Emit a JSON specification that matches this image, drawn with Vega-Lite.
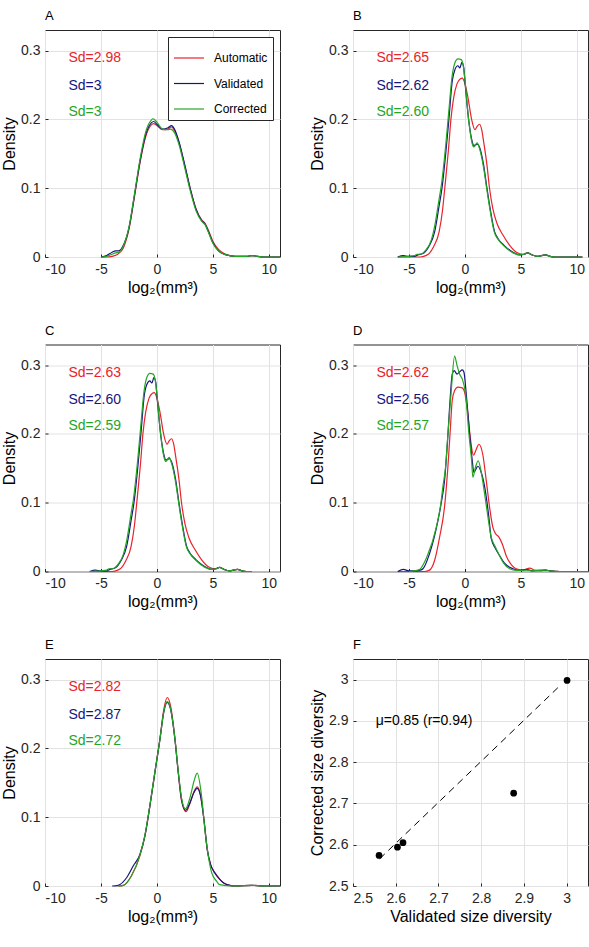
{
 "$schema": "https://vega.github.io/schema/vega-lite/v6.json",
 "background": "white",
 "padding": {"left": 1, "top": 9, "right": 0, "bottom": 0},
 "config": {
  "font": "Liberation Sans",
  "view": {"stroke": "#262626", "strokeWidth": 1},
  "axis": {"grid": true, "gridColor": "#e2e2e2", "gridWidth": 1, "domain": false, "tickSize": -3, "tickColor": "#262626", "tickWidth": 1, "labelFontSize": 14, "labelColor": "#262626", "labelPadding": 8, "titleFontSize": 16, "titleFontWeight": "normal", "titleColor": "#000000", "titlePadding": 3, "labelFont": "Liberation Sans", "titleFont": "Liberation Sans"},
  "title": {"anchor": "start", "frame": "group", "fontSize": 13, "fontWeight": "normal", "offset": 7, "color": "#000000", "font": "Liberation Sans"},
  "legend": {"labelFont": "Liberation Sans"}
 },
 "datasets": {
  "sd": [
   {"p": "A", "s": "Automatic", "label": "Sd=2.98"}, {"p": "A", "s": "Validated", "label": "Sd=3"}, {"p": "A", "s": "Corrected", "label": "Sd=3"},
   {"p": "B", "s": "Automatic", "label": "Sd=2.65"}, {"p": "B", "s": "Validated", "label": "Sd=2.62"}, {"p": "B", "s": "Corrected", "label": "Sd=2.60"},
   {"p": "C", "s": "Automatic", "label": "Sd=2.63"}, {"p": "C", "s": "Validated", "label": "Sd=2.60"}, {"p": "C", "s": "Corrected", "label": "Sd=2.59"},
   {"p": "D", "s": "Automatic", "label": "Sd=2.62"}, {"p": "D", "s": "Validated", "label": "Sd=2.56"}, {"p": "D", "s": "Corrected", "label": "Sd=2.57"},
   {"p": "E", "s": "Automatic", "label": "Sd=2.82"}, {"p": "E", "s": "Validated", "label": "Sd=2.87"}, {"p": "E", "s": "Corrected", "label": "Sd=2.72"}
  ],
  "scatter": [
   {"panel": "A", "x": 3.001, "y": 2.998}, {"panel": "B", "x": 2.617, "y": 2.605}, {"panel": "C", "x": 2.604, "y": 2.594}, {"panel": "D", "x": 2.561, "y": 2.574}, {"panel": "E", "x": 2.876, "y": 2.725}
  ],
  "fit": [{"x": 2.5625, "y": 2.566}, {"x": 2.982, "y": 2.983}],
  "note": [{"label": "μ=0.85 (r=0.94)"}],
  "curves": [
   {"p":"A","s":"Automatic","x":-5,"y":0},{"p":"A","s":"Automatic","x":-4.5,"y":0},{"p":"A","s":"Automatic","x":-4,"y":0.001},{"p":"A","s":"Automatic","x":-3.5,"y":0.004},{"p":"A","s":"Automatic","x":-3,"y":0.013},{"p":"A","s":"Automatic","x":-2.5,"y":0.04},{"p":"A","s":"Automatic","x":-2,"y":0.088},{"p":"A","s":"Automatic","x":-1.5,"y":0.138},{"p":"A","s":"Automatic","x":-1,"y":0.175},{"p":"A","s":"Automatic","x":-0.5,"y":0.192},{"p":"A","s":"Automatic","x":-0.3,"y":0.194},{"p":"A","s":"Automatic","x":0,"y":0.191},{"p":"A","s":"Automatic","x":0.5,"y":0.185},{"p":"A","s":"Automatic","x":1,"y":0.186},{"p":"A","s":"Automatic","x":1.3,"y":0.189},{"p":"A","s":"Automatic","x":1.6,"y":0.183},{"p":"A","s":"Automatic","x":2,"y":0.165},{"p":"A","s":"Automatic","x":2.5,"y":0.132},{"p":"A","s":"Automatic","x":3,"y":0.098},{"p":"A","s":"Automatic","x":3.5,"y":0.07},{"p":"A","s":"Automatic","x":4,"y":0.054},{"p":"A","s":"Automatic","x":4.3,"y":0.049},{"p":"A","s":"Automatic","x":4.6,"y":0.039},{"p":"A","s":"Automatic","x":5,"y":0.023},{"p":"A","s":"Automatic","x":5.5,"y":0.011},{"p":"A","s":"Automatic","x":6,"y":0.005},{"p":"A","s":"Automatic","x":6.5,"y":0.002},{"p":"A","s":"Automatic","x":7,"y":0.001},{"p":"A","s":"Automatic","x":8,"y":0.001},{"p":"A","s":"Automatic","x":8.5,"y":0.002},{"p":"A","s":"Automatic","x":9,"y":0.001},{"p":"A","s":"Automatic","x":9.5,"y":0},{"p":"A","s":"Automatic","x":11,"y":0},
   {"p":"A","s":"Validated","x":-5,"y":0},{"p":"A","s":"Validated","x":-4.5,"y":0.002},{"p":"A","s":"Validated","x":-4,"y":0.007},{"p":"A","s":"Validated","x":-3.7,"y":0.009},{"p":"A","s":"Validated","x":-3.4,"y":0.009},{"p":"A","s":"Validated","x":-3,"y":0.017},{"p":"A","s":"Validated","x":-2.5,"y":0.042},{"p":"A","s":"Validated","x":-2,"y":0.09},{"p":"A","s":"Validated","x":-1.5,"y":0.14},{"p":"A","s":"Validated","x":-1,"y":0.178},{"p":"A","s":"Validated","x":-0.5,"y":0.195},{"p":"A","s":"Validated","x":-0.3,"y":0.197},{"p":"A","s":"Validated","x":0,"y":0.193},{"p":"A","s":"Validated","x":0.5,"y":0.186},{"p":"A","s":"Validated","x":1,"y":0.188},{"p":"A","s":"Validated","x":1.3,"y":0.191},{"p":"A","s":"Validated","x":1.6,"y":0.185},{"p":"A","s":"Validated","x":2,"y":0.166},{"p":"A","s":"Validated","x":2.5,"y":0.133},{"p":"A","s":"Validated","x":3,"y":0.098},{"p":"A","s":"Validated","x":3.5,"y":0.069},{"p":"A","s":"Validated","x":4,"y":0.053},{"p":"A","s":"Validated","x":4.3,"y":0.048},{"p":"A","s":"Validated","x":4.6,"y":0.037},{"p":"A","s":"Validated","x":5,"y":0.021},{"p":"A","s":"Validated","x":5.5,"y":0.009},{"p":"A","s":"Validated","x":6,"y":0.004},{"p":"A","s":"Validated","x":6.5,"y":0.002},{"p":"A","s":"Validated","x":7,"y":0.001},{"p":"A","s":"Validated","x":8,"y":0.001},{"p":"A","s":"Validated","x":8.5,"y":0.002},{"p":"A","s":"Validated","x":9,"y":0.001},{"p":"A","s":"Validated","x":9.5,"y":0},{"p":"A","s":"Validated","x":11,"y":0},
   {"p":"A","s":"Corrected","x":-5,"y":0},{"p":"A","s":"Corrected","x":-4.5,"y":0.001},{"p":"A","s":"Corrected","x":-4,"y":0.004},{"p":"A","s":"Corrected","x":-3.7,"y":0.006},{"p":"A","s":"Corrected","x":-3.4,"y":0.007},{"p":"A","s":"Corrected","x":-3,"y":0.016},{"p":"A","s":"Corrected","x":-2.5,"y":0.043},{"p":"A","s":"Corrected","x":-2,"y":0.092},{"p":"A","s":"Corrected","x":-1.5,"y":0.143},{"p":"A","s":"Corrected","x":-1,"y":0.182},{"p":"A","s":"Corrected","x":-0.5,"y":0.199},{"p":"A","s":"Corrected","x":-0.35,"y":0.201},{"p":"A","s":"Corrected","x":0,"y":0.196},{"p":"A","s":"Corrected","x":0.5,"y":0.186},{"p":"A","s":"Corrected","x":1,"y":0.185},{"p":"A","s":"Corrected","x":1.2,"y":0.186},{"p":"A","s":"Corrected","x":1.6,"y":0.18},{"p":"A","s":"Corrected","x":2,"y":0.162},{"p":"A","s":"Corrected","x":2.5,"y":0.129},{"p":"A","s":"Corrected","x":3,"y":0.095},{"p":"A","s":"Corrected","x":3.5,"y":0.067},{"p":"A","s":"Corrected","x":4,"y":0.052},{"p":"A","s":"Corrected","x":4.3,"y":0.047},{"p":"A","s":"Corrected","x":4.6,"y":0.036},{"p":"A","s":"Corrected","x":5,"y":0.02},{"p":"A","s":"Corrected","x":5.5,"y":0.009},{"p":"A","s":"Corrected","x":6,"y":0.004},{"p":"A","s":"Corrected","x":6.5,"y":0.002},{"p":"A","s":"Corrected","x":7,"y":0.001},{"p":"A","s":"Corrected","x":8,"y":0.001},{"p":"A","s":"Corrected","x":8.5,"y":0.002},{"p":"A","s":"Corrected","x":9,"y":0.001},{"p":"A","s":"Corrected","x":9.5,"y":0},{"p":"A","s":"Corrected","x":11,"y":0},

   {"p":"B","s":"Automatic","x":-6,"y":0},{"p":"B","s":"Automatic","x":-4,"y":0},{"p":"B","s":"Automatic","x":-3.5,"y":0.002},{"p":"B","s":"Automatic","x":-3.2,"y":0.005},{"p":"B","s":"Automatic","x":-2.8,"y":0.015},{"p":"B","s":"Automatic","x":-2.3,"y":0.037},{"p":"B","s":"Automatic","x":-2,"y":0.068},{"p":"B","s":"Automatic","x":-1.8,"y":0.1},{"p":"B","s":"Automatic","x":-1.46,"y":0.158},{"p":"B","s":"Automatic","x":-1.25,"y":0.2},{"p":"B","s":"Automatic","x":-1,"y":0.232},{"p":"B","s":"Automatic","x":-0.7,"y":0.252},{"p":"B","s":"Automatic","x":-0.4,"y":0.259},{"p":"B","s":"Automatic","x":-0.24,"y":0.26},{"p":"B","s":"Automatic","x":0,"y":0.252},{"p":"B","s":"Automatic","x":0.27,"y":0.232},{"p":"B","s":"Automatic","x":0.6,"y":0.2},{"p":"B","s":"Automatic","x":0.9,"y":0.185},{"p":"B","s":"Automatic","x":1.1,"y":0.19},{"p":"B","s":"Automatic","x":1.3,"y":0.193},{"p":"B","s":"Automatic","x":1.5,"y":0.185},{"p":"B","s":"Automatic","x":1.67,"y":0.168},{"p":"B","s":"Automatic","x":1.97,"y":0.134},{"p":"B","s":"Automatic","x":2.2,"y":0.1},{"p":"B","s":"Automatic","x":2.5,"y":0.07},{"p":"B","s":"Automatic","x":2.86,"y":0.049},{"p":"B","s":"Automatic","x":3.4,"y":0.032},{"p":"B","s":"Automatic","x":4,"y":0.017},{"p":"B","s":"Automatic","x":4.6,"y":0.007},{"p":"B","s":"Automatic","x":5.2,"y":0.004},{"p":"B","s":"Automatic","x":5.6,"y":0.006},{"p":"B","s":"Automatic","x":6,"y":0.003},{"p":"B","s":"Automatic","x":6.5,"y":0.001},{"p":"B","s":"Automatic","x":7.2,"y":0.003},{"p":"B","s":"Automatic","x":7.6,"y":0.001},{"p":"B","s":"Automatic","x":8,"y":0},{"p":"B","s":"Automatic","x":10.5,"y":0},
   {"p":"B","s":"Validated","x":-6,"y":0},{"p":"B","s":"Validated","x":-5.5,"y":0.002},{"p":"B","s":"Validated","x":-5,"y":0.001},{"p":"B","s":"Validated","x":-4.5,"y":0.001},{"p":"B","s":"Validated","x":-4.2,"y":0.003},{"p":"B","s":"Validated","x":-3.75,"y":0.005},{"p":"B","s":"Validated","x":-3.2,"y":0.016},{"p":"B","s":"Validated","x":-2.7,"y":0.037},{"p":"B","s":"Validated","x":-2.3,"y":0.075},{"p":"B","s":"Validated","x":-2.05,"y":0.1},{"p":"B","s":"Validated","x":-1.67,"y":0.158},{"p":"B","s":"Validated","x":-1.43,"y":0.2},{"p":"B","s":"Validated","x":-1.13,"y":0.256},{"p":"B","s":"Validated","x":-0.9,"y":0.272},{"p":"B","s":"Validated","x":-0.63,"y":0.278},{"p":"B","s":"Validated","x":-0.45,"y":0.275},{"p":"B","s":"Validated","x":-0.27,"y":0.283},{"p":"B","s":"Validated","x":-0.1,"y":0.275},{"p":"B","s":"Validated","x":0,"y":0.256},{"p":"B","s":"Validated","x":0.33,"y":0.2},{"p":"B","s":"Validated","x":0.65,"y":0.168},{"p":"B","s":"Validated","x":0.8,"y":0.162},{"p":"B","s":"Validated","x":1.1,"y":0.164},{"p":"B","s":"Validated","x":1.3,"y":0.16},{"p":"B","s":"Validated","x":1.67,"y":0.134},{"p":"B","s":"Validated","x":1.97,"y":0.1},{"p":"B","s":"Validated","x":2.26,"y":0.07},{"p":"B","s":"Validated","x":2.65,"y":0.037},{"p":"B","s":"Validated","x":2.95,"y":0.027},{"p":"B","s":"Validated","x":3.5,"y":0.017},{"p":"B","s":"Validated","x":4.3,"y":0.007},{"p":"B","s":"Validated","x":4.9,"y":0.003},{"p":"B","s":"Validated","x":5.3,"y":0.004},{"p":"B","s":"Validated","x":5.6,"y":0.006},{"p":"B","s":"Validated","x":6,"y":0.003},{"p":"B","s":"Validated","x":6.5,"y":0.001},{"p":"B","s":"Validated","x":7.2,"y":0.003},{"p":"B","s":"Validated","x":7.6,"y":0.001},{"p":"B","s":"Validated","x":8,"y":0},{"p":"B","s":"Validated","x":10.5,"y":0},
   {"p":"B","s":"Corrected","x":-6,"y":0},{"p":"B","s":"Corrected","x":-5,"y":0.001},{"p":"B","s":"Corrected","x":-4.5,"y":0.002},{"p":"B","s":"Corrected","x":-4.3,"y":0.004},{"p":"B","s":"Corrected","x":-4,"y":0.004},{"p":"B","s":"Corrected","x":-3.5,"y":0.01},{"p":"B","s":"Corrected","x":-3,"y":0.025},{"p":"B","s":"Corrected","x":-2.7,"y":0.045},{"p":"B","s":"Corrected","x":-2.3,"y":0.085},{"p":"B","s":"Corrected","x":-2.1,"y":0.105},{"p":"B","s":"Corrected","x":-1.7,"y":0.165},{"p":"B","s":"Corrected","x":-1.45,"y":0.21},{"p":"B","s":"Corrected","x":-1.15,"y":0.262},{"p":"B","s":"Corrected","x":-0.9,"y":0.282},{"p":"B","s":"Corrected","x":-0.63,"y":0.288},{"p":"B","s":"Corrected","x":-0.33,"y":0.287},{"p":"B","s":"Corrected","x":-0.15,"y":0.278},{"p":"B","s":"Corrected","x":0,"y":0.258},{"p":"B","s":"Corrected","x":0.33,"y":0.2},{"p":"B","s":"Corrected","x":0.65,"y":0.165},{"p":"B","s":"Corrected","x":0.8,"y":0.16},{"p":"B","s":"Corrected","x":1.1,"y":0.166},{"p":"B","s":"Corrected","x":1.3,"y":0.158},{"p":"B","s":"Corrected","x":1.67,"y":0.13},{"p":"B","s":"Corrected","x":1.97,"y":0.097},{"p":"B","s":"Corrected","x":2.26,"y":0.067},{"p":"B","s":"Corrected","x":2.65,"y":0.035},{"p":"B","s":"Corrected","x":2.95,"y":0.026},{"p":"B","s":"Corrected","x":3.5,"y":0.016},{"p":"B","s":"Corrected","x":4.3,"y":0.006},{"p":"B","s":"Corrected","x":4.9,"y":0.003},{"p":"B","s":"Corrected","x":5.3,"y":0.004},{"p":"B","s":"Corrected","x":5.6,"y":0.006},{"p":"B","s":"Corrected","x":6,"y":0.003},{"p":"B","s":"Corrected","x":6.5,"y":0.001},{"p":"B","s":"Corrected","x":7.2,"y":0.003},{"p":"B","s":"Corrected","x":7.6,"y":0.001},{"p":"B","s":"Corrected","x":8,"y":0},{"p":"B","s":"Corrected","x":10.5,"y":0},

   {"p":"C","s":"Automatic","x":-6,"y":0},{"p":"C","s":"Automatic","x":-4,"y":0},{"p":"C","s":"Automatic","x":-3.5,"y":0.002},{"p":"C","s":"Automatic","x":-3.2,"y":0.005},{"p":"C","s":"Automatic","x":-2.8,"y":0.015},{"p":"C","s":"Automatic","x":-2.3,"y":0.037},{"p":"C","s":"Automatic","x":-2,"y":0.068},{"p":"C","s":"Automatic","x":-1.8,"y":0.1},{"p":"C","s":"Automatic","x":-1.46,"y":0.158},{"p":"C","s":"Automatic","x":-1.25,"y":0.2},{"p":"C","s":"Automatic","x":-1,"y":0.232},{"p":"C","s":"Automatic","x":-0.7,"y":0.252},{"p":"C","s":"Automatic","x":-0.4,"y":0.259},{"p":"C","s":"Automatic","x":-0.24,"y":0.26},{"p":"C","s":"Automatic","x":0,"y":0.252},{"p":"C","s":"Automatic","x":0.27,"y":0.232},{"p":"C","s":"Automatic","x":0.6,"y":0.2},{"p":"C","s":"Automatic","x":0.9,"y":0.185},{"p":"C","s":"Automatic","x":1.1,"y":0.19},{"p":"C","s":"Automatic","x":1.3,"y":0.193},{"p":"C","s":"Automatic","x":1.5,"y":0.185},{"p":"C","s":"Automatic","x":1.67,"y":0.168},{"p":"C","s":"Automatic","x":1.97,"y":0.134},{"p":"C","s":"Automatic","x":2.2,"y":0.1},{"p":"C","s":"Automatic","x":2.5,"y":0.07},{"p":"C","s":"Automatic","x":2.86,"y":0.049},{"p":"C","s":"Automatic","x":3.4,"y":0.032},{"p":"C","s":"Automatic","x":4,"y":0.017},{"p":"C","s":"Automatic","x":4.6,"y":0.007},{"p":"C","s":"Automatic","x":5.2,"y":0.004},{"p":"C","s":"Automatic","x":5.6,"y":0.006},{"p":"C","s":"Automatic","x":6,"y":0.003},{"p":"C","s":"Automatic","x":6.5,"y":0.001},{"p":"C","s":"Automatic","x":7.2,"y":0.003},{"p":"C","s":"Automatic","x":7.6,"y":0.001},{"p":"C","s":"Automatic","x":8,"y":0},{"p":"C","s":"Automatic","x":8.5,"y":0},
   {"p":"C","s":"Validated","x":-6,"y":0},{"p":"C","s":"Validated","x":-5.5,"y":0.002},{"p":"C","s":"Validated","x":-5,"y":0.001},{"p":"C","s":"Validated","x":-4.5,"y":0.001},{"p":"C","s":"Validated","x":-4.2,"y":0.003},{"p":"C","s":"Validated","x":-3.75,"y":0.005},{"p":"C","s":"Validated","x":-3.2,"y":0.016},{"p":"C","s":"Validated","x":-2.7,"y":0.037},{"p":"C","s":"Validated","x":-2.3,"y":0.075},{"p":"C","s":"Validated","x":-2.05,"y":0.1},{"p":"C","s":"Validated","x":-1.67,"y":0.158},{"p":"C","s":"Validated","x":-1.43,"y":0.2},{"p":"C","s":"Validated","x":-1.13,"y":0.256},{"p":"C","s":"Validated","x":-0.9,"y":0.272},{"p":"C","s":"Validated","x":-0.63,"y":0.277},{"p":"C","s":"Validated","x":-0.45,"y":0.274},{"p":"C","s":"Validated","x":-0.27,"y":0.282},{"p":"C","s":"Validated","x":-0.1,"y":0.275},{"p":"C","s":"Validated","x":0,"y":0.256},{"p":"C","s":"Validated","x":0.33,"y":0.2},{"p":"C","s":"Validated","x":0.65,"y":0.168},{"p":"C","s":"Validated","x":0.8,"y":0.162},{"p":"C","s":"Validated","x":1.1,"y":0.164},{"p":"C","s":"Validated","x":1.3,"y":0.16},{"p":"C","s":"Validated","x":1.67,"y":0.134},{"p":"C","s":"Validated","x":1.97,"y":0.1},{"p":"C","s":"Validated","x":2.26,"y":0.07},{"p":"C","s":"Validated","x":2.65,"y":0.037},{"p":"C","s":"Validated","x":2.95,"y":0.027},{"p":"C","s":"Validated","x":3.5,"y":0.017},{"p":"C","s":"Validated","x":4.3,"y":0.007},{"p":"C","s":"Validated","x":4.9,"y":0.003},{"p":"C","s":"Validated","x":5.3,"y":0.004},{"p":"C","s":"Validated","x":5.6,"y":0.006},{"p":"C","s":"Validated","x":6,"y":0.003},{"p":"C","s":"Validated","x":6.5,"y":0.001},{"p":"C","s":"Validated","x":7.2,"y":0.003},{"p":"C","s":"Validated","x":7.6,"y":0.001},{"p":"C","s":"Validated","x":8,"y":0},{"p":"C","s":"Validated","x":8.5,"y":0},
   {"p":"C","s":"Corrected","x":-6,"y":0},{"p":"C","s":"Corrected","x":-5,"y":0.001},{"p":"C","s":"Corrected","x":-4.5,"y":0.002},{"p":"C","s":"Corrected","x":-4.3,"y":0.004},{"p":"C","s":"Corrected","x":-4,"y":0.004},{"p":"C","s":"Corrected","x":-3.5,"y":0.01},{"p":"C","s":"Corrected","x":-3,"y":0.025},{"p":"C","s":"Corrected","x":-2.7,"y":0.045},{"p":"C","s":"Corrected","x":-2.3,"y":0.085},{"p":"C","s":"Corrected","x":-2.1,"y":0.105},{"p":"C","s":"Corrected","x":-1.7,"y":0.165},{"p":"C","s":"Corrected","x":-1.45,"y":0.21},{"p":"C","s":"Corrected","x":-1.15,"y":0.262},{"p":"C","s":"Corrected","x":-0.9,"y":0.282},{"p":"C","s":"Corrected","x":-0.63,"y":0.288},{"p":"C","s":"Corrected","x":-0.33,"y":0.287},{"p":"C","s":"Corrected","x":-0.15,"y":0.278},{"p":"C","s":"Corrected","x":0,"y":0.258},{"p":"C","s":"Corrected","x":0.33,"y":0.2},{"p":"C","s":"Corrected","x":0.65,"y":0.165},{"p":"C","s":"Corrected","x":0.8,"y":0.16},{"p":"C","s":"Corrected","x":1.1,"y":0.166},{"p":"C","s":"Corrected","x":1.3,"y":0.158},{"p":"C","s":"Corrected","x":1.67,"y":0.13},{"p":"C","s":"Corrected","x":1.97,"y":0.097},{"p":"C","s":"Corrected","x":2.26,"y":0.067},{"p":"C","s":"Corrected","x":2.65,"y":0.035},{"p":"C","s":"Corrected","x":2.95,"y":0.026},{"p":"C","s":"Corrected","x":3.5,"y":0.016},{"p":"C","s":"Corrected","x":4.3,"y":0.006},{"p":"C","s":"Corrected","x":4.9,"y":0.003},{"p":"C","s":"Corrected","x":5.3,"y":0.004},{"p":"C","s":"Corrected","x":5.6,"y":0.006},{"p":"C","s":"Corrected","x":6,"y":0.003},{"p":"C","s":"Corrected","x":6.5,"y":0.001},{"p":"C","s":"Corrected","x":7.2,"y":0.003},{"p":"C","s":"Corrected","x":7.6,"y":0.001},{"p":"C","s":"Corrected","x":8,"y":0},{"p":"C","s":"Corrected","x":8.5,"y":0},

   {"p":"D","s":"Automatic","x":-6,"y":0},{"p":"D","s":"Automatic","x":-3.6,"y":0},{"p":"D","s":"Automatic","x":-3.16,"y":0.002},{"p":"D","s":"Automatic","x":-2.71,"y":0.016},{"p":"D","s":"Automatic","x":-2.26,"y":0.05},{"p":"D","s":"Automatic","x":-1.82,"y":0.094},{"p":"D","s":"Automatic","x":-1.52,"y":0.152},{"p":"D","s":"Automatic","x":-1.31,"y":0.205},{"p":"D","s":"Automatic","x":-1.13,"y":0.249},{"p":"D","s":"Automatic","x":-0.92,"y":0.263},{"p":"D","s":"Automatic","x":-0.63,"y":0.268},{"p":"D","s":"Automatic","x":-0.24,"y":0.267},{"p":"D","s":"Automatic","x":-0.03,"y":0.261},{"p":"D","s":"Automatic","x":0.27,"y":0.229},{"p":"D","s":"Automatic","x":0.48,"y":0.195},{"p":"D","s":"Automatic","x":0.77,"y":0.169},{"p":"D","s":"Automatic","x":1,"y":0.177},{"p":"D","s":"Automatic","x":1.25,"y":0.185},{"p":"D","s":"Automatic","x":1.61,"y":0.169},{"p":"D","s":"Automatic","x":1.91,"y":0.132},{"p":"D","s":"Automatic","x":2.2,"y":0.094},{"p":"D","s":"Automatic","x":2.5,"y":0.064},{"p":"D","s":"Automatic","x":2.74,"y":0.055},{"p":"D","s":"Automatic","x":3.04,"y":0.05},{"p":"D","s":"Automatic","x":3.34,"y":0.04},{"p":"D","s":"Automatic","x":3.69,"y":0.023},{"p":"D","s":"Automatic","x":4.14,"y":0.01},{"p":"D","s":"Automatic","x":4.59,"y":0.004},{"p":"D","s":"Automatic","x":5.2,"y":0.002},{"p":"D","s":"Automatic","x":5.8,"y":0.005},{"p":"D","s":"Automatic","x":6.2,"y":0.002},{"p":"D","s":"Automatic","x":6.8,"y":0.001},{"p":"D","s":"Automatic","x":7.2,"y":0.002},{"p":"D","s":"Automatic","x":7.6,"y":0.001},{"p":"D","s":"Automatic","x":8.5,"y":0},{"p":"D","s":"Automatic","x":11,"y":0},
   {"p":"D","s":"Validated","x":-6,"y":0},{"p":"D","s":"Validated","x":-5.5,"y":0.003},{"p":"D","s":"Validated","x":-5,"y":0.001},{"p":"D","s":"Validated","x":-4.5,"y":0.001},{"p":"D","s":"Validated","x":-4,"y":0.002},{"p":"D","s":"Validated","x":-3.75,"y":0.004},{"p":"D","s":"Validated","x":-3.16,"y":0.026},{"p":"D","s":"Validated","x":-2.41,"y":0.074},{"p":"D","s":"Validated","x":-2.11,"y":0.1},{"p":"D","s":"Validated","x":-1.82,"y":0.132},{"p":"D","s":"Validated","x":-1.55,"y":0.19},{"p":"D","s":"Validated","x":-1.31,"y":0.253},{"p":"D","s":"Validated","x":-1.13,"y":0.287},{"p":"D","s":"Validated","x":-0.95,"y":0.292},{"p":"D","s":"Validated","x":-0.71,"y":0.287},{"p":"D","s":"Validated","x":-0.48,"y":0.29},{"p":"D","s":"Validated","x":-0.24,"y":0.293},{"p":"D","s":"Validated","x":-0.09,"y":0.29},{"p":"D","s":"Validated","x":0.12,"y":0.258},{"p":"D","s":"Validated","x":0.42,"y":0.2},{"p":"D","s":"Validated","x":0.66,"y":0.161},{"p":"D","s":"Validated","x":0.8,"y":0.144},{"p":"D","s":"Validated","x":1.16,"y":0.153},{"p":"D","s":"Validated","x":1.46,"y":0.144},{"p":"D","s":"Validated","x":1.82,"y":0.118},{"p":"D","s":"Validated","x":2.14,"y":0.079},{"p":"D","s":"Validated","x":2.35,"y":0.048},{"p":"D","s":"Validated","x":2.74,"y":0.033},{"p":"D","s":"Validated","x":3.1,"y":0.023},{"p":"D","s":"Validated","x":3.54,"y":0.012},{"p":"D","s":"Validated","x":4.29,"y":0.004},{"p":"D","s":"Validated","x":4.9,"y":0.0015},{"p":"D","s":"Validated","x":5.5,"y":0.003},{"p":"D","s":"Validated","x":6,"y":0.001},{"p":"D","s":"Validated","x":7.2,"y":0.002},{"p":"D","s":"Validated","x":7.6,"y":0.001},{"p":"D","s":"Validated","x":8.5,"y":0},{"p":"D","s":"Validated","x":11,"y":0},
   {"p":"D","s":"Corrected","x":-5,"y":0},{"p":"D","s":"Corrected","x":-4.5,"y":0.001},{"p":"D","s":"Corrected","x":-4.05,"y":0.003},{"p":"D","s":"Corrected","x":-3.4,"y":0.021},{"p":"D","s":"Corrected","x":-2.56,"y":0.064},{"p":"D","s":"Corrected","x":-2.14,"y":0.1},{"p":"D","s":"Corrected","x":-1.97,"y":0.123},{"p":"D","s":"Corrected","x":-1.73,"y":0.152},{"p":"D","s":"Corrected","x":-1.52,"y":0.2},{"p":"D","s":"Corrected","x":-1.22,"y":0.263},{"p":"D","s":"Corrected","x":-0.92,"y":0.313},{"p":"D","s":"Corrected","x":-0.71,"y":0.3},{"p":"D","s":"Corrected","x":-0.48,"y":0.287},{"p":"D","s":"Corrected","x":-0.24,"y":0.28},{"p":"D","s":"Corrected","x":0.06,"y":0.258},{"p":"D","s":"Corrected","x":0.36,"y":0.2},{"p":"D","s":"Corrected","x":0.6,"y":0.161},{"p":"D","s":"Corrected","x":0.71,"y":0.137},{"p":"D","s":"Corrected","x":0.95,"y":0.152},{"p":"D","s":"Corrected","x":1.19,"y":0.161},{"p":"D","s":"Corrected","x":1.43,"y":0.147},{"p":"D","s":"Corrected","x":1.76,"y":0.113},{"p":"D","s":"Corrected","x":2.06,"y":0.079},{"p":"D","s":"Corrected","x":2.35,"y":0.05},{"p":"D","s":"Corrected","x":2.65,"y":0.038},{"p":"D","s":"Corrected","x":2.95,"y":0.028},{"p":"D","s":"Corrected","x":3.4,"y":0.0136},{"p":"D","s":"Corrected","x":4,"y":0.004},{"p":"D","s":"Corrected","x":4.6,"y":0.0015},{"p":"D","s":"Corrected","x":5.5,"y":0.002},{"p":"D","s":"Corrected","x":6,"y":0.001},{"p":"D","s":"Corrected","x":7.2,"y":0.002},{"p":"D","s":"Corrected","x":7.6,"y":0.001},{"p":"D","s":"Corrected","x":8.5,"y":0},{"p":"D","s":"Corrected","x":11,"y":0},

   {"p":"E","s":"Automatic","x":-3.5,"y":0},{"p":"E","s":"Automatic","x":-3,"y":0.001},{"p":"E","s":"Automatic","x":-2.27,"y":0.015},{"p":"E","s":"Automatic","x":-1.52,"y":0.044},{"p":"E","s":"Automatic","x":-1.07,"y":0.073},{"p":"E","s":"Automatic","x":-0.63,"y":0.116},{"p":"E","s":"Automatic","x":-0.18,"y":0.165},{"p":"E","s":"Automatic","x":0.27,"y":0.214},{"p":"E","s":"Automatic","x":0.63,"y":0.258},{"p":"E","s":"Automatic","x":0.92,"y":0.274},{"p":"E","s":"Automatic","x":1.22,"y":0.262},{"p":"E","s":"Automatic","x":1.61,"y":0.215},{"p":"E","s":"Automatic","x":1.91,"y":0.165},{"p":"E","s":"Automatic","x":2.2,"y":0.124},{"p":"E","s":"Automatic","x":2.6,"y":0.108},{"p":"E","s":"Automatic","x":2.95,"y":0.12},{"p":"E","s":"Automatic","x":3.31,"y":0.137},{"p":"E","s":"Automatic","x":3.6,"y":0.144},{"p":"E","s":"Automatic","x":3.9,"y":0.132},{"p":"E","s":"Automatic","x":4.2,"y":0.097},{"p":"E","s":"Automatic","x":4.5,"y":0.053},{"p":"E","s":"Automatic","x":4.8,"y":0.031},{"p":"E","s":"Automatic","x":5.18,"y":0.019},{"p":"E","s":"Automatic","x":5.6,"y":0.01},{"p":"E","s":"Automatic","x":6,"y":0.004},{"p":"E","s":"Automatic","x":6.5,"y":0.001},{"p":"E","s":"Automatic","x":7,"y":0},{"p":"E","s":"Automatic","x":8.5,"y":0.001},{"p":"E","s":"Automatic","x":9.5,"y":0},{"p":"E","s":"Automatic","x":11,"y":0},
   {"p":"E","s":"Validated","x":-4,"y":0},{"p":"E","s":"Validated","x":-3.46,"y":0.001},{"p":"E","s":"Validated","x":-2.71,"y":0.012},{"p":"E","s":"Validated","x":-2.12,"y":0.029},{"p":"E","s":"Validated","x":-1.52,"y":0.046},{"p":"E","s":"Validated","x":-1.07,"y":0.073},{"p":"E","s":"Validated","x":-0.63,"y":0.116},{"p":"E","s":"Validated","x":-0.18,"y":0.165},{"p":"E","s":"Validated","x":0.27,"y":0.213},{"p":"E","s":"Validated","x":0.63,"y":0.254},{"p":"E","s":"Validated","x":0.92,"y":0.267},{"p":"E","s":"Validated","x":1.22,"y":0.257},{"p":"E","s":"Validated","x":1.61,"y":0.213},{"p":"E","s":"Validated","x":1.91,"y":0.165},{"p":"E","s":"Validated","x":2.2,"y":0.126},{"p":"E","s":"Validated","x":2.56,"y":0.11},{"p":"E","s":"Validated","x":2.95,"y":0.121},{"p":"E","s":"Validated","x":3.31,"y":0.136},{"p":"E","s":"Validated","x":3.6,"y":0.142},{"p":"E","s":"Validated","x":3.9,"y":0.131},{"p":"E","s":"Validated","x":4.2,"y":0.097},{"p":"E","s":"Validated","x":4.5,"y":0.053},{"p":"E","s":"Validated","x":4.8,"y":0.031},{"p":"E","s":"Validated","x":5.18,"y":0.019},{"p":"E","s":"Validated","x":5.6,"y":0.01},{"p":"E","s":"Validated","x":6,"y":0.004},{"p":"E","s":"Validated","x":6.5,"y":0.001},{"p":"E","s":"Validated","x":7,"y":0},{"p":"E","s":"Validated","x":8.5,"y":0.001},{"p":"E","s":"Validated","x":9.5,"y":0},{"p":"E","s":"Validated","x":11,"y":0},
   {"p":"E","s":"Corrected","x":-3.5,"y":0},{"p":"E","s":"Corrected","x":-3,"y":0.001},{"p":"E","s":"Corrected","x":-2.27,"y":0.015},{"p":"E","s":"Corrected","x":-1.52,"y":0.045},{"p":"E","s":"Corrected","x":-1.07,"y":0.074},{"p":"E","s":"Corrected","x":-0.63,"y":0.117},{"p":"E","s":"Corrected","x":-0.18,"y":0.166},{"p":"E","s":"Corrected","x":0.27,"y":0.213},{"p":"E","s":"Corrected","x":0.63,"y":0.255},{"p":"E","s":"Corrected","x":0.92,"y":0.268},{"p":"E","s":"Corrected","x":1.22,"y":0.258},{"p":"E","s":"Corrected","x":1.61,"y":0.214},{"p":"E","s":"Corrected","x":1.91,"y":0.166},{"p":"E","s":"Corrected","x":2.2,"y":0.128},{"p":"E","s":"Corrected","x":2.55,"y":0.112},{"p":"E","s":"Corrected","x":2.95,"y":0.128},{"p":"E","s":"Corrected","x":3.31,"y":0.152},{"p":"E","s":"Corrected","x":3.6,"y":0.164},{"p":"E","s":"Corrected","x":3.99,"y":0.131},{"p":"E","s":"Corrected","x":4.29,"y":0.082},{"p":"E","s":"Corrected","x":4.59,"y":0.044},{"p":"E","s":"Corrected","x":4.9,"y":0.019},{"p":"E","s":"Corrected","x":5.33,"y":0.007},{"p":"E","s":"Corrected","x":5.6,"y":0.002},{"p":"E","s":"Corrected","x":6,"y":0.001},{"p":"E","s":"Corrected","x":7,"y":0},{"p":"E","s":"Corrected","x":8.5,"y":0.001},{"p":"E","s":"Corrected","x":9.5,"y":0},{"p":"E","s":"Corrected","x":11,"y":0}
  ]
 },
 "columns": 2,
 "spacing": {"row": 87.5, "column": 73},
 "bounds": "flush",
 "resolve": {"scale": {"color": "independent", "x": "independent", "y": "independent"}, "legend": {"color": "independent"}},
 "concat": [
  {"width": 235, "height": 227, "title": "A", "layer": [
   {"data": {"name": "curves"}, "transform": [{"filter": "datum.p == 'A'"}], "mark": {"type": "line", "strokeWidth": 1.2, "interpolate": "monotone"},
    "encoding": {
     "x": {"field": "x", "type": "quantitative", "scale": {"domain": [-10, 11], "nice": false}, "axis": {"values": [-10, -5, 0, 5, 10], "title": "log₂(mm³)", "labelExpr": "'' + datum.value"}},
     "y": {"field": "y", "type": "quantitative", "scale": {"domain": [0, 0.33], "nice": false}, "axis": {"values": [0, 0.1, 0.2, 0.3], "title": "Density", "labelExpr": "'' + datum.value"}},
     "color": {"field": "s", "type": "nominal", "scale": {"domain": ["Automatic", "Validated", "Corrected"], "range": ["#e8232a", "#15157d", "#25a525"]},
      "legend": {"title": null, "orient": "top-right", "offset": 7, "strokeColor": "#262626", "fillColor": "white", "padding": 5, "symbolType": "stroke", "symbolSize": 900, "symbolStrokeWidth": 1.2, "labelFontSize": 12, "labelColor": "#000000", "rowPadding": 3.5, "labelOffset": 9, "cornerRadius": 0}}
    }},
   {"data": {"name": "sd"}, "transform": [{"filter": "datum.p == 'A' && datum.s == 'Automatic'"}], "mark": {"type": "text", "align": "left", "baseline": "middle", "fontSize": 14}, "encoding": {"x": {"datum": -7.9}, "y": {"datum": 0.289}, "text": {"field": "label"}, "color": {"field": "s", "type": "nominal", "legend": null}}},
   {"data": {"name": "sd"}, "transform": [{"filter": "datum.p == 'A' && datum.s == 'Validated'"}], "mark": {"type": "text", "align": "left", "baseline": "middle", "fontSize": 14}, "encoding": {"x": {"datum": -7.9}, "y": {"datum": 0.249}, "text": {"field": "label"}, "color": {"field": "s", "type": "nominal", "legend": null}}},
   {"data": {"name": "sd"}, "transform": [{"filter": "datum.p == 'A' && datum.s == 'Corrected'"}], "mark": {"type": "text", "align": "left", "baseline": "middle", "fontSize": 14}, "encoding": {"x": {"datum": -7.9}, "y": {"datum": 0.211}, "text": {"field": "label"}, "color": {"field": "s", "type": "nominal", "legend": null}}}
  ]},
  {"width": 235, "height": 227, "title": "B", "layer": [
   {"data": {"name": "curves"}, "transform": [{"filter": "datum.p == 'B'"}], "mark": {"type": "line", "strokeWidth": 1.2, "interpolate": "monotone"},
    "encoding": {
     "x": {"field": "x", "type": "quantitative", "scale": {"domain": [-10, 11], "nice": false}, "axis": {"values": [-10, -5, 0, 5, 10], "title": "log₂(mm³)", "labelExpr": "'' + datum.value"}},
     "y": {"field": "y", "type": "quantitative", "scale": {"domain": [0, 0.33], "nice": false}, "axis": {"values": [0, 0.1, 0.2, 0.3], "title": "Density", "labelExpr": "'' + datum.value"}},
     "color": {"field": "s", "type": "nominal", "scale": {"domain": ["Automatic", "Validated", "Corrected"], "range": ["#e8232a", "#15157d", "#25a525"]}, "legend": null}
    }},
   {"data": {"name": "sd"}, "transform": [{"filter": "datum.p == 'B' && datum.s == 'Automatic'"}], "mark": {"type": "text", "align": "left", "baseline": "middle", "fontSize": 14}, "encoding": {"x": {"datum": -7.9}, "y": {"datum": 0.289}, "text": {"field": "label"}, "color": {"field": "s", "type": "nominal", "legend": null}}},
   {"data": {"name": "sd"}, "transform": [{"filter": "datum.p == 'B' && datum.s == 'Validated'"}], "mark": {"type": "text", "align": "left", "baseline": "middle", "fontSize": 14}, "encoding": {"x": {"datum": -7.9}, "y": {"datum": 0.249}, "text": {"field": "label"}, "color": {"field": "s", "type": "nominal", "legend": null}}},
   {"data": {"name": "sd"}, "transform": [{"filter": "datum.p == 'B' && datum.s == 'Corrected'"}], "mark": {"type": "text", "align": "left", "baseline": "middle", "fontSize": 14}, "encoding": {"x": {"datum": -7.9}, "y": {"datum": 0.211}, "text": {"field": "label"}, "color": {"field": "s", "type": "nominal", "legend": null}}}
  ]},
  {"width": 235, "height": 227, "title": "C", "layer": [
   {"data": {"name": "curves"}, "transform": [{"filter": "datum.p == 'C'"}], "mark": {"type": "line", "strokeWidth": 1.2, "interpolate": "monotone"},
    "encoding": {
     "x": {"field": "x", "type": "quantitative", "scale": {"domain": [-10, 11], "nice": false}, "axis": {"values": [-10, -5, 0, 5, 10], "title": "log₂(mm³)", "labelExpr": "'' + datum.value"}},
     "y": {"field": "y", "type": "quantitative", "scale": {"domain": [0, 0.33], "nice": false}, "axis": {"values": [0, 0.1, 0.2, 0.3], "title": "Density", "labelExpr": "'' + datum.value"}},
     "color": {"field": "s", "type": "nominal", "scale": {"domain": ["Automatic", "Validated", "Corrected"], "range": ["#e8232a", "#15157d", "#25a525"]}, "legend": null}
    }},
   {"data": {"name": "sd"}, "transform": [{"filter": "datum.p == 'C' && datum.s == 'Automatic'"}], "mark": {"type": "text", "align": "left", "baseline": "middle", "fontSize": 14}, "encoding": {"x": {"datum": -7.9}, "y": {"datum": 0.289}, "text": {"field": "label"}, "color": {"field": "s", "type": "nominal", "legend": null}}},
   {"data": {"name": "sd"}, "transform": [{"filter": "datum.p == 'C' && datum.s == 'Validated'"}], "mark": {"type": "text", "align": "left", "baseline": "middle", "fontSize": 14}, "encoding": {"x": {"datum": -7.9}, "y": {"datum": 0.249}, "text": {"field": "label"}, "color": {"field": "s", "type": "nominal", "legend": null}}},
   {"data": {"name": "sd"}, "transform": [{"filter": "datum.p == 'C' && datum.s == 'Corrected'"}], "mark": {"type": "text", "align": "left", "baseline": "middle", "fontSize": 14}, "encoding": {"x": {"datum": -7.9}, "y": {"datum": 0.211}, "text": {"field": "label"}, "color": {"field": "s", "type": "nominal", "legend": null}}}
  ]},
  {"width": 235, "height": 227, "title": "D", "layer": [
   {"data": {"name": "curves"}, "transform": [{"filter": "datum.p == 'D'"}], "mark": {"type": "line", "strokeWidth": 1.2, "interpolate": "monotone"},
    "encoding": {
     "x": {"field": "x", "type": "quantitative", "scale": {"domain": [-10, 11], "nice": false}, "axis": {"values": [-10, -5, 0, 5, 10], "title": "log₂(mm³)", "labelExpr": "'' + datum.value"}},
     "y": {"field": "y", "type": "quantitative", "scale": {"domain": [0, 0.33], "nice": false}, "axis": {"values": [0, 0.1, 0.2, 0.3], "title": "Density", "labelExpr": "'' + datum.value"}},
     "color": {"field": "s", "type": "nominal", "scale": {"domain": ["Automatic", "Validated", "Corrected"], "range": ["#e8232a", "#15157d", "#25a525"]}, "legend": null}
    }},
   {"data": {"name": "sd"}, "transform": [{"filter": "datum.p == 'D' && datum.s == 'Automatic'"}], "mark": {"type": "text", "align": "left", "baseline": "middle", "fontSize": 14}, "encoding": {"x": {"datum": -7.9}, "y": {"datum": 0.289}, "text": {"field": "label"}, "color": {"field": "s", "type": "nominal", "legend": null}}},
   {"data": {"name": "sd"}, "transform": [{"filter": "datum.p == 'D' && datum.s == 'Validated'"}], "mark": {"type": "text", "align": "left", "baseline": "middle", "fontSize": 14}, "encoding": {"x": {"datum": -7.9}, "y": {"datum": 0.249}, "text": {"field": "label"}, "color": {"field": "s", "type": "nominal", "legend": null}}},
   {"data": {"name": "sd"}, "transform": [{"filter": "datum.p == 'D' && datum.s == 'Corrected'"}], "mark": {"type": "text", "align": "left", "baseline": "middle", "fontSize": 14}, "encoding": {"x": {"datum": -7.9}, "y": {"datum": 0.211}, "text": {"field": "label"}, "color": {"field": "s", "type": "nominal", "legend": null}}}
  ]},
  {"width": 235, "height": 227, "title": "E", "layer": [
   {"data": {"name": "curves"}, "transform": [{"filter": "datum.p == 'E'"}], "mark": {"type": "line", "strokeWidth": 1.2, "interpolate": "monotone"},
    "encoding": {
     "x": {"field": "x", "type": "quantitative", "scale": {"domain": [-10, 11], "nice": false}, "axis": {"values": [-10, -5, 0, 5, 10], "title": "log₂(mm³)", "labelExpr": "'' + datum.value"}},
     "y": {"field": "y", "type": "quantitative", "scale": {"domain": [0, 0.33], "nice": false}, "axis": {"values": [0, 0.1, 0.2, 0.3], "title": "Density", "labelExpr": "'' + datum.value"}},
     "color": {"field": "s", "type": "nominal", "scale": {"domain": ["Automatic", "Validated", "Corrected"], "range": ["#e8232a", "#15157d", "#25a525"]}, "legend": null}
    }},
   {"data": {"name": "sd"}, "transform": [{"filter": "datum.p == 'E' && datum.s == 'Automatic'"}], "mark": {"type": "text", "align": "left", "baseline": "middle", "fontSize": 14}, "encoding": {"x": {"datum": -7.9}, "y": {"datum": 0.289}, "text": {"field": "label"}, "color": {"field": "s", "type": "nominal", "legend": null}}},
   {"data": {"name": "sd"}, "transform": [{"filter": "datum.p == 'E' && datum.s == 'Validated'"}], "mark": {"type": "text", "align": "left", "baseline": "middle", "fontSize": 14}, "encoding": {"x": {"datum": -7.9}, "y": {"datum": 0.249}, "text": {"field": "label"}, "color": {"field": "s", "type": "nominal", "legend": null}}},
   {"data": {"name": "sd"}, "transform": [{"filter": "datum.p == 'E' && datum.s == 'Corrected'"}], "mark": {"type": "text", "align": "left", "baseline": "middle", "fontSize": 14}, "encoding": {"x": {"datum": -7.9}, "y": {"datum": 0.211}, "text": {"field": "label"}, "color": {"field": "s", "type": "nominal", "legend": null}}}
  ]},
  {"width": 235, "height": 227, "title": "F", "layer": [
   {"data": {"name": "fit"}, "mark": {"type": "line", "color": "#000000", "strokeWidth": 1, "strokeDash": [7, 5]},
    "encoding": {
     "x": {"field": "x", "type": "quantitative", "scale": {"domain": [2.5, 3.05], "nice": false, "zero": false}, "axis": {"values": [2.5, 2.6, 2.7, 2.8, 2.9, 3], "title": "Validated size diversity", "labelExpr": "'' + datum.value"}},
     "y": {"field": "y", "type": "quantitative", "scale": {"domain": [2.5, 3.05], "nice": false, "zero": false}, "axis": {"values": [2.5, 2.6, 2.7, 2.8, 2.9, 3], "title": "Corrected size diversity", "labelExpr": "'' + datum.value"}}
    }},
   {"data": {"name": "scatter"}, "mark": {"type": "circle", "color": "#000000", "size": 45, "opacity": 1},
    "encoding": {"x": {"field": "x", "type": "quantitative"}, "y": {"field": "y", "type": "quantitative"}}},
   {"data": {"name": "note"}, "mark": {"type": "text", "align": "left", "baseline": "middle", "fontSize": 14, "color": "#000000"},
    "encoding": {"x": {"datum": 2.553}, "y": {"datum": 2.9}, "text": {"field": "label"}}}
  ]}
 ]
}
